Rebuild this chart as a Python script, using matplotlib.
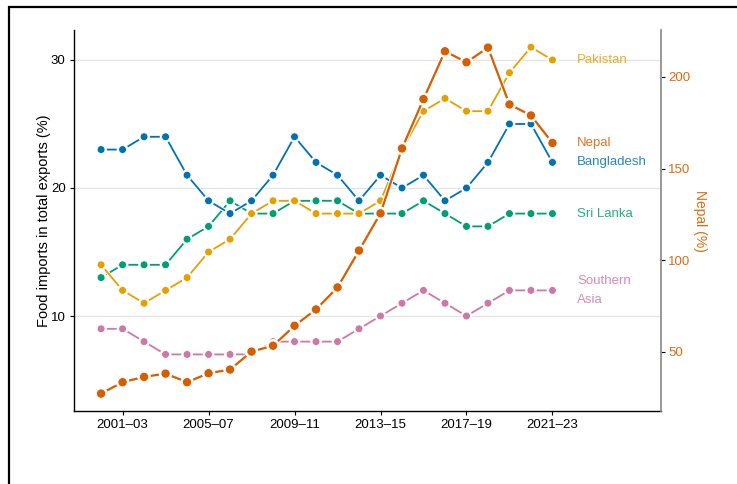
import matplotlib
matplotlib.use("Agg")
import matplotlib.pyplot as plt
import matplotlib.patheffects as pe
from matplotlib.patches import Rectangle
import numpy as np

plt.rcParams['font.family'] = ['Liberation Sans', 'DejaVu Sans']

periods = ["2000–02", "2001–03", "2002–04", "2003–05", "2004–06", "2005–07", "2006–08",
           "2007–09", "2008–10", "2009–11", "2010–12", "2011–13", "2012–14", "2013–15",
           "2014–16", "2015–17", "2016–18", "2017–19", "2018–20", "2019–21", "2020–22",
           "2021–23"]

bangladesh = [23, 23, 24, 24, 21, 19, 18, 19, 21, 24, 22, 21, 19, 21, 20, 21, 19, 20, 22, 25, 25, 22]
sri_lanka = [13, 14, 14, 14, 16, 17, 19, 18, 18, 19, 19, 19, 18, 18, 18, 19, 18, 17, 17, 18, 18, 18]
pakistan = [14, 12, 11, 12, 13, 15, 16, 18, 19, 19, 18, 18, 18, 19, 23, 26, 27, 26, 26, 29, 31, 30]
southern_asia = [9, 9, 8, 7, 7, 7, 7, 7, 8, 8, 8, 8, 9, 10, 11, 12, 11, 10, 11, 12, 12, 12]
nepal = [27.3, 33.5, 36.4, 38.2, 33.5, 38.4, 40.4, 50.2, 53.4, 64.3, 73.2, 85.2, 105.3, 125.6,
         161, 187.9, 214, 208, 216, 185, 179, 164]

c_bgd = "#0072B2"
c_lka = "#009E73"
c_pak = "#E69F00"
c_npl = "#D55E00"
c_sas = "#CC79A7"

fig = plt.figure(figsize=(7.37, 4.84), dpi=100)
fig.patches.append(Rectangle((9/737, -0.1), 1.2, 1.1 - 7/484, transform=fig.transFigure,
                             fill=False, edgecolor="black", linewidth=1.6, zorder=0))

ax = fig.add_axes([74/737, 1 - 411/484, (661 - 74)/737, (411 - 30)/484])
x = np.arange(len(periods))


def draw(a, vals, color, lw=1.3, ms=5.6, z=3):
    a.plot(x, vals, color=color, lw=lw, marker="o", ms=ms, mec="white", mew=0.5,
           path_effects=[pe.Stroke(linewidth=lw + 1.5, foreground="white"), pe.Normal()],
           zorder=z, solid_capstyle="round")


draw(ax, southern_asia, c_sas)
draw(ax, sri_lanka, c_lka)
draw(ax, pakistan, c_pak)
draw(ax, bangladesh, c_bgd)

ax.set_xlim(-1.26, 26.05)
ax.set_ylim(2.58, 32.34)
ax.set_yticks([10, 20, 30])
ax.set_xticks(x[1::4])
ax.set_xticklabels([periods[i] for i in x[1::4]])
ax.yaxis.grid(True, color="#e3e3e3", lw=0.9)
ax.set_axisbelow(True)
for s in ["top", "right"]:
    ax.spines[s].set_visible(False)
for s in ["left", "bottom"]:
    ax.spines[s].set_color("black")
    ax.spines[s].set_linewidth(1.0)
ax.tick_params(axis="both", labelsize=9.5, length=3, width=0.8, colors="black", pad=3)
ax.set_ylabel("Food imports in total exports (%)", fontsize=10.5, labelpad=0)

ax2 = ax.twinx()
draw(ax2, nepal, c_npl, lw=1.6, ms=6.6, z=4)
ax2.set_ylim(17.8, 225.6)
ax2.set_yticks([50, 100, 150, 200])
for s in ["top", "left", "bottom"]:
    ax2.spines[s].set_visible(False)
ax2.spines["right"].set_color("#888888")
ax2.spines["right"].set_linewidth(1.2)
ax2.tick_params(axis="y", labelsize=9.5, length=3, width=0.8, color="black",
                labelcolor="#DD6A10", pad=2)
ax2.set_ylabel("Nepal (%)", fontsize=10, color="#DD6A10", rotation=-90, labelpad=12)

lx = 22.14
ax.text(lx, 30, "Pakistan", color=c_pak, fontsize=9.5, va="center", ha="left", alpha=0.85)
ax.text(lx, 23.5, "Nepal", color=c_npl, fontsize=9.5, va="center", ha="left", alpha=0.85)
ax.text(lx, 22, "Bangladesh", color=c_bgd, fontsize=9.5, va="center", ha="left", alpha=0.85)
ax.text(lx, 18, "Sri Lanka", color=c_lka, fontsize=9.5, va="center", ha="left", alpha=0.85)
ax.text(lx, 12, "Southern\nAsia", color=c_sas, fontsize=9.5, va="center", ha="left",
        alpha=0.85, linespacing=1.75)

fig.savefig("out.png", dpi=100)
